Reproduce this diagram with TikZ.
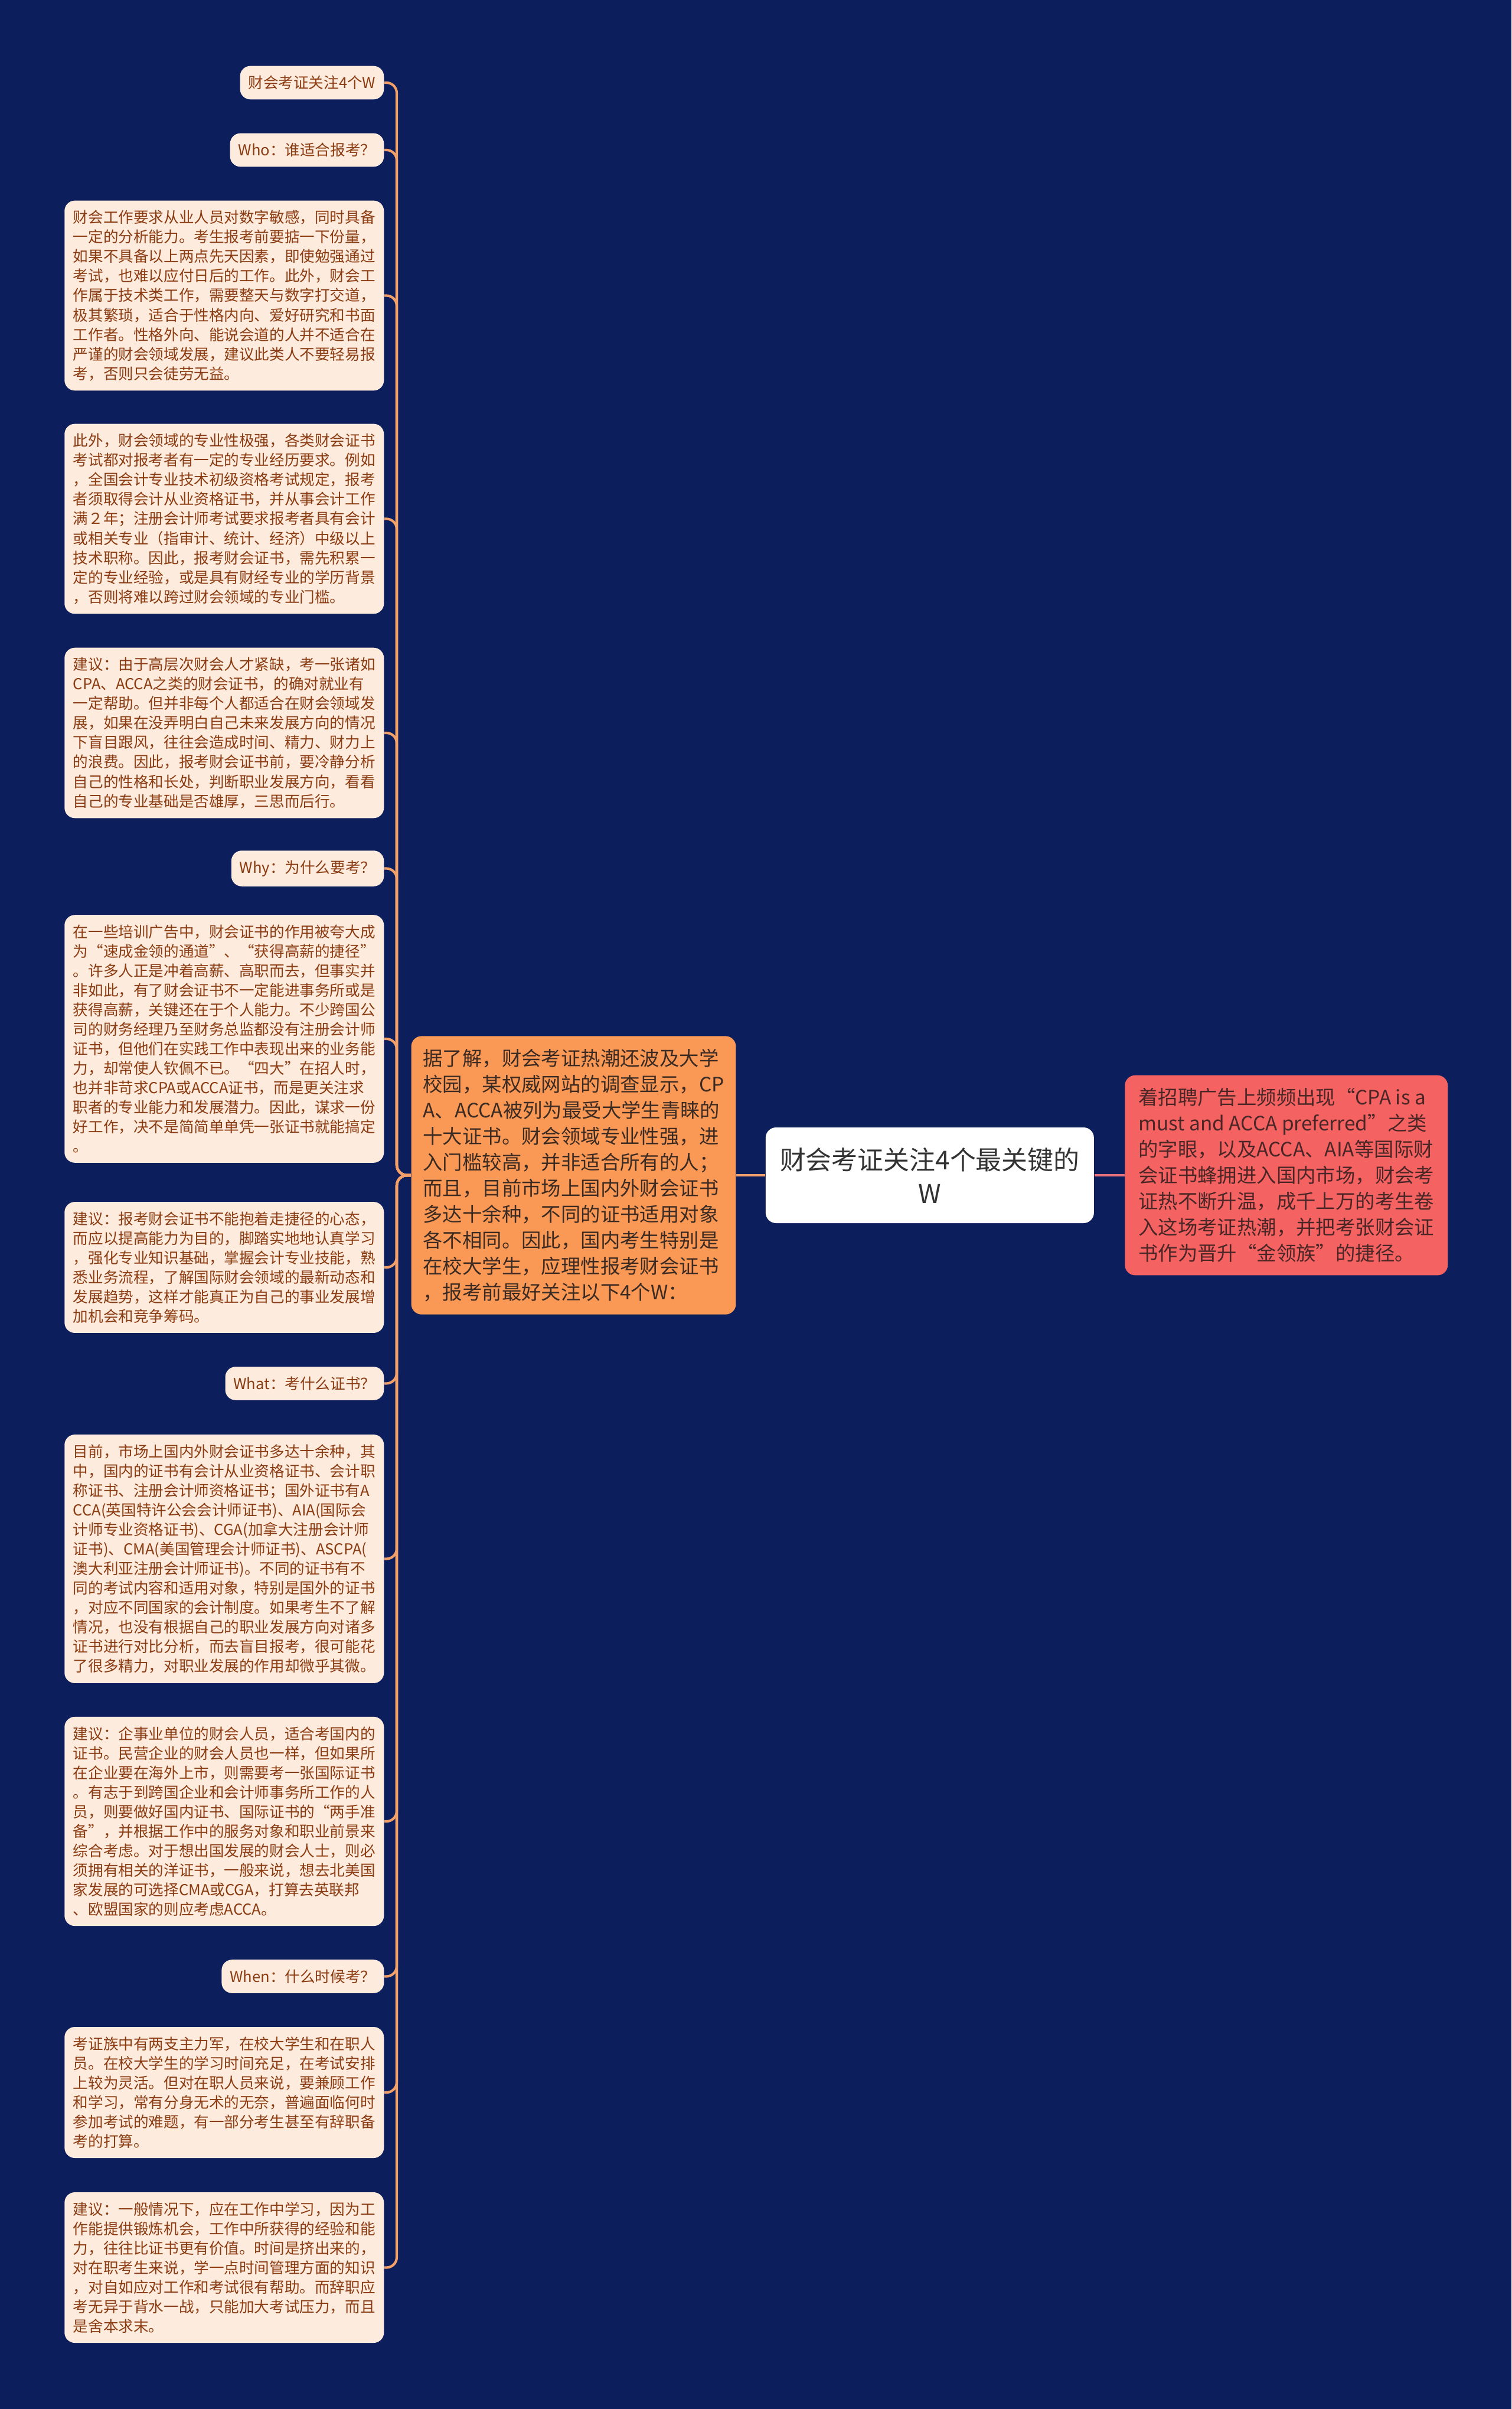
\documentclass[tikz,border=0pt]{standalone}
\usepackage{fontspec}
\setmainfont{Noto Sans CJK SC}
\usepackage{tikz}
\usetikzlibrary{positioning}
\definecolor{NavyBg}{HTML}{0C1E5B}
\definecolor{Peach}{HTML}{FDEBDD}
\definecolor{Rust}{HTML}{8B3C12}
\definecolor{Tangerine}{HTML}{FA9856}
\definecolor{TangerineLine}{HTML}{F2A06A}
\definecolor{Salmon}{HTML}{F46262}
\definecolor{SalmonLine}{HTML}{E9707A}
\definecolor{Ink}{HTML}{333333}
\definecolor{InkBrown}{HTML}{3B2B22}
\definecolor{InkRed}{HTML}{4A2626}
\tikzset{
  box/.style={
    rectangle, rounded corners=5pt, fill=Peach, text=Rust,
    anchor=east, align=left, inner xsep=0.14cm, inner ysep=0.165cm,
    minimum width=#1, font=\fontsize{7.28}{9.4}\selectfont
  },
  box/.default=5.41cm,
  big/.style={
    rectangle, rounded corners=5pt, align=left,
    inner xsep=0.2cm, inner ysep=0.22cm, minimum width=5.49cm,
    font=\fontsize{9.5}{12.5}\selectfont
  },
  lnk/.style={line width=1.2pt, color=TangerineLine, rounded corners=5pt},
}

\begin{document}
\begin{tikzpicture}

\fill[NavyBg] (0,0) rectangle (25.6,-40.79);

% centre and main branches
\node[big, fill=Tangerine, text=InkBrown] at (9.715,-19.90) (org) {
  据了解，财会考证热潮还波及大学\\
  校园，某权威网站的调查显示，CP\\
  A、ACCA被列为最受大学生青睐的\\
  十大证书。财会领域专业性强，进\\
  入门槛较高，并非适合所有的人；\\
  而且，目前市场上国内外财会证书\\
  多达十余种，不同的证书适用对象\\
  各不相同。因此，国内考生特别是\\
  在校大学生，应理性报考财会证书\\
  ，报考前最好关注以下4个W：};

\node[rectangle, rounded corners=5pt, fill=white, text=Ink, align=center,
  minimum width=5.56cm, minimum height=1.62cm,
  font=\fontsize{12.5}{16.2}\selectfont, right=0.49cm of org] (root) {
  财会考证关注4个最关键的\\W};

\node[big, fill=Salmon, text=InkRed, minimum width=5.47cm, right=0.51cm of root] (ad) {
  着招聘广告上频频出现“CPA is a\\
  must and ACCA preferred”之类\\
  的字眼，以及ACCA、AIA等国际财\\
  会证书蜂拥进入国内市场，财会考\\
  证热不断升温，成千上万的考生卷\\
  入这场考证热潮，并把考张财会证\\
  书作为晋升“金领族”的捷径。};

% left column
\node[box=0pt] at (6.51,-1.40) (q0) {财会考证关注4个W};
\node[box=0pt] at (6.51,-2.54) (who) {Who：谁适合报考？};
\node[box] at (6.51,-5.005) (who1) {
  财会工作要求从业人员对数字敏感，同时具备\\
  一定的分析能力。考生报考前要掂一下份量，\\
  如果不具备以上两点先天因素，即使勉强通过\\
  考试，也难以应付日后的工作。此外，财会工\\
  作属于技术类工作，需要整天与数字打交道，\\
  极其繁琐，适合于性格内向、爱好研究和书面\\
  工作者。性格外向、能说会道的人并不适合在\\
  严谨的财会领域发展，建议此类人不要轻易报\\
  考，否则只会徒劳无益。};
\node[box] at (6.51,-8.785) (who2) {
  此外，财会领域的专业性极强，各类财会证书\\
  考试都对报考者有一定的专业经历要求。例如\\
  ，全国会计专业技术初级资格考试规定，报考\\
  者须取得会计从业资格证书，并从事会计工作\\
  满２年；注册会计师考试要求报考者具有会计\\
  或相关专业（指审计、统计、经济）中级以上\\
  技术职称。因此，报考财会证书，需先积累一\\
  定的专业经验，或是具有财经专业的学历背景\\
  ，否则将难以跨过财会领域的专业门槛。};
\node[box] at (6.51,-12.41) (who3) {
  建议：由于高层次财会人才紧缺，考一张诸如\\
  CPA、ACCA之类的财会证书，的确对就业有\\
  一定帮助。但并非每个人都适合在财会领域发\\
  展，如果在没弄明白自己未来发展方向的情况\\
  下盲目跟风，往往会造成时间、精力、财力上\\
  的浪费。因此，报考财会证书前，要冷静分析\\
  自己的性格和长处，判断职业发展方向，看看\\
  自己的专业基础是否雄厚，三思而后行。};

\node[box=0pt] at (6.51,-14.705) (why) {Why：为什么要考？};
\node[box] at (6.51,-17.59) (why1) {
  在一些培训广告中，财会证书的作用被夸大成\\
  为“速成金领的通道”、“获得高薪的捷径”\\
  。许多人正是冲着高薪、高职而去，但事实并\\
  非如此，有了财会证书不一定能进事务所或是\\
  获得高薪，关键还在于个人能力。不少跨国公\\
  司的财务经理乃至财务总监都没有注册会计师\\
  证书，但他们在实践工作中表现出来的业务能\\
  力，却常使人钦佩不已。“四大”在招人时，\\
  也并非苛求CPA或ACCA证书，而是更关注求\\
  职者的专业能力和发展潜力。因此，谋求一份\\
  好工作，决不是简简单单凭一张证书就能搞定\\
  。};
\node[box] at (6.51,-21.46) (why2) {
  建议：报考财会证书不能抱着走捷径的心态，\\
  而应以提高能力为目的，脚踏实地地认真学习\\
  ，强化专业知识基础，掌握会计专业技能，熟\\
  悉业务流程，了解国际财会领域的最新动态和\\
  发展趋势，这样才能真正为自己的事业发展增\\
  加机会和竞争筹码。};

\node[box=0pt] at (6.51,-23.425) (what) {What：考什么证书？};
\node[box] at (6.51,-26.395) (what1) {
  目前，市场上国内外财会证书多达十余种，其\\
  中，国内的证书有会计从业资格证书、会计职\\
  称证书、注册会计师资格证书；国外证书有A\\
  CCA(英国特许公会会计师证书)、AIA(国际会\\
  计师专业资格证书)、CGA(加拿大注册会计师\\
  证书)、CMA(美国管理会计师证书)、ASCPA(\\
  澳大利亚注册会计师证书)。不同的证书有不\\
  同的考试内容和适用对象，特别是国外的证书\\
  ，对应不同国家的会计制度。如果考生不了解\\
  情况，也没有根据自己的职业发展方向对诸多\\
  证书进行对比分析，而去盲目报考，很可能花\\
  了很多精力，对职业发展的作用却微乎其微。};
\node[box] at (6.51,-30.84) (what2) {
  建议：企事业单位的财会人员，适合考国内的\\
  证书。民营企业的财会人员也一样，但如果所\\
  在企业要在海外上市，则需要考一张国际证书\\
  。有志于到跨国企业和会计师事务所工作的人\\
  员，则要做好国内证书、国际证书的“两手准\\
  备”，并根据工作中的服务对象和职业前景来\\
  综合考虑。对于想出国发展的财会人士，则必\\
  须拥有相关的洋证书，一般来说，想去北美国\\
  家发展的可选择CMA或CGA，打算去英联邦\\
  、欧盟国家的则应考虑ACCA。};

\node[box=0pt] at (6.51,-33.465) (when) {When：什么时候考？};
\node[box] at (6.51,-35.43) (when1) {
  考证族中有两支主力军，在校大学生和在职人\\
  员。在校大学生的学习时间充足，在考试安排\\
  上较为灵活。但对在职人员来说，要兼顾工作\\
  和学习，常有分身无术的无奈，普遍面临何时\\
  参加考试的难题，有一部分考生甚至有辞职备\\
  考的打算。};
\node[box] at (6.51,-38.395) (when2) {
  建议：一般情况下，应在工作中学习，因为工\\
  作能提供锻炼机会，工作中所获得的经验和能\\
  力，往往比证书更有价值。时间是挤出来的，\\
  对在职考生来说，学一点时间管理方面的知识\\
  ，对自如应对工作和考试很有帮助。而辞职应\\
  考无异于背水一战，只能加大考试压力，而且\\
  是舍本求末。};

% connectors
\coordinate (hub) at (6.72,-19.90);
\foreach \n in {q0,who,who1,who2,who3,why,why1,why2,what,what1,what2,when,when1,when2}
  \draw[lnk] (org.west) -- (hub) |- (\n.east);
\draw[lnk] (org) -- (root);
\draw[lnk, SalmonLine] (root) -- (ad);

\end{tikzpicture}
\end{document}
